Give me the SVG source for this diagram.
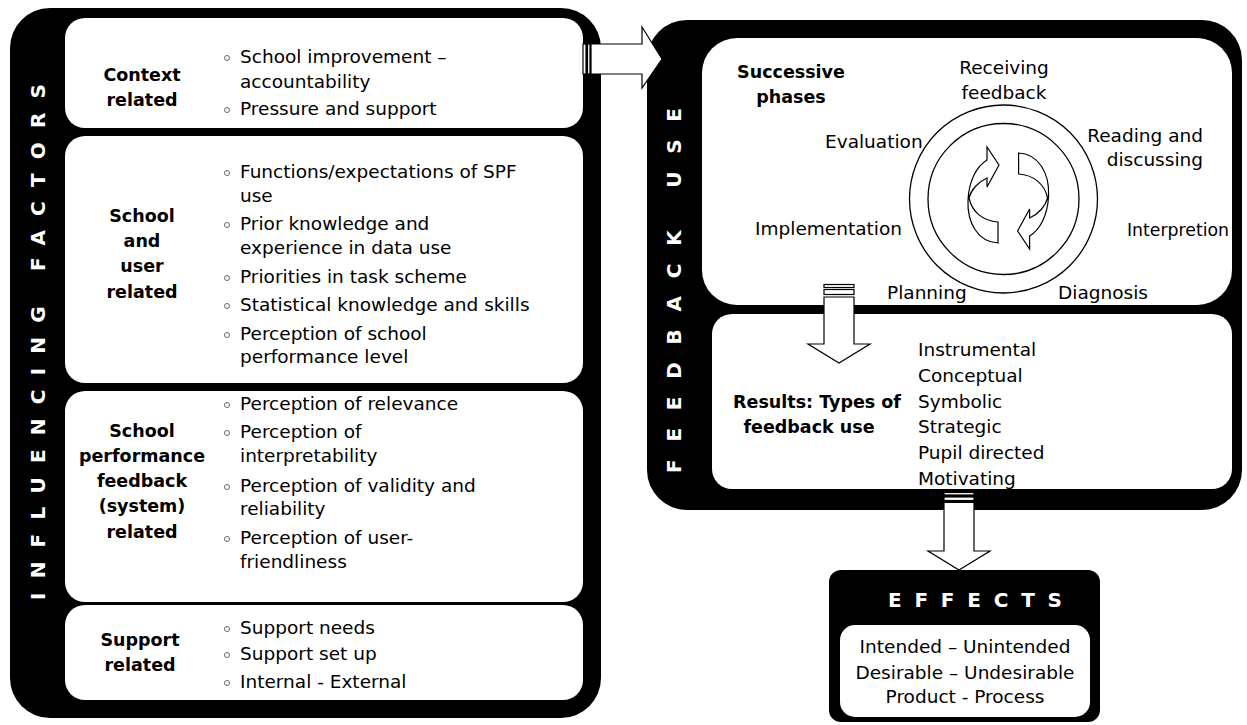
<svg xmlns="http://www.w3.org/2000/svg" width="1247" height="725" viewBox="0 0 1247 725">
<style>
.panel{fill:#000}
.box{fill:#fff}
.t{font-family:"DejaVu Sans",sans-serif;font-size:18.5px;fill:#000}
.b{font-family:"DejaVu Sans",sans-serif;font-size:17.5px;font-weight:bold;fill:#000;text-anchor:middle}
.v{font-family:"DejaVu Sans",sans-serif;font-size:20px;font-weight:bold;fill:#fff;text-anchor:middle}
.bul{fill:none;stroke:#666;stroke-width:1}
.arr{fill:#fff;stroke:#000;stroke-width:1.2}
.ring{fill:none;stroke:#000;stroke-width:1.3}
</style>
<defs>
<path id="cyc" d="M998,243 C978,242 967,223 968,200 C969,180 977,166 987,160 L987,147 L999,165 L987,187 L987,178 C978,182 971,190 969,198 C972,212 983,221 998,222 Z"/>
</defs>

<g id="influencing-factors">
<rect class="panel" x="10" y="8" width="591" height="710" rx="40"/>
<text class="v" transform="translate(44.5,342) rotate(-90)" textLength="516" lengthAdjust="spacing">INFLUENCING FACTORS</text>
</g>

<g id="context-related">
<rect class="box" x="65" y="18" width="518" height="110" rx="20"/>
<text class="b" x="142" y="81">Context</text>
<text class="b" x="142" y="106">related</text>
<circle class="bul" cx="227" cy="58" r="2.5"/>
<text class="t" x="240" y="63">School improvement –</text>
<text class="t" x="240" y="88">accountability</text>
<circle class="bul" cx="227" cy="110" r="2.5"/>
<text class="t" x="240" y="115">Pressure and support</text>
</g>

<g id="school-user-related">
<rect class="box" x="65" y="136" width="518" height="247" rx="20"/>
<text class="b" x="142" y="222">School</text>
<text class="b" x="142" y="247">and</text>
<text class="b" x="142" y="272">user</text>
<text class="b" x="142" y="298">related</text>
<circle class="bul" cx="227" cy="173" r="2.5"/>
<text class="t" x="240" y="178">Functions/expectations of SPF</text>
<text class="t" x="240" y="202">use</text>
<circle class="bul" cx="227" cy="225" r="2.5"/>
<text class="t" x="240" y="230">Prior knowledge and</text>
<text class="t" x="240" y="254">experience in data use</text>
<circle class="bul" cx="227" cy="278" r="2.5"/>
<text class="t" x="240" y="283">Priorities in task scheme</text>
<circle class="bul" cx="227" cy="306" r="2.5"/>
<text class="t" x="240" y="311">Statistical knowledge and skills</text>
<circle class="bul" cx="227" cy="335" r="2.5"/>
<text class="t" x="240" y="340">Perception of school</text>
<text class="t" x="240" y="363">performance level</text>
</g>

<g id="spf-related">
<rect class="box" x="65" y="391" width="518" height="211" rx="20"/>
<text class="b" x="142" y="437">School</text>
<text class="b" x="142" y="462">performance</text>
<text class="b" x="142" y="487">feedback</text>
<text class="b" x="142" y="512">(system)</text>
<text class="b" x="142" y="538">related</text>
<circle class="bul" cx="227" cy="405" r="2.5"/>
<text class="t" x="240" y="410">Perception of relevance</text>
<circle class="bul" cx="227" cy="433" r="2.5"/>
<text class="t" x="240" y="438">Perception of</text>
<text class="t" x="240" y="462">interpretability</text>
<circle class="bul" cx="227" cy="487" r="2.5"/>
<text class="t" x="240" y="492">Perception of validity and</text>
<text class="t" x="240" y="515">reliability</text>
<circle class="bul" cx="227" cy="539" r="2.5"/>
<text class="t" x="240" y="544">Perception of user-</text>
<text class="t" x="240" y="568">friendliness</text>
</g>

<g id="support-related">
<rect class="box" x="65" y="605" width="518" height="95" rx="20"/>
<text class="b" x="140" y="646">Support</text>
<text class="b" x="140" y="671">related</text>
<circle class="bul" cx="227" cy="629" r="2.5"/>
<text class="t" x="240" y="634">Support needs</text>
<circle class="bul" cx="227" cy="655" r="2.5"/>
<text class="t" x="240" y="660">Support set up</text>
<circle class="bul" cx="227" cy="683" r="2.5"/>
<text class="t" x="240" y="688">Internal - External</text>
</g>

<g id="feedback-use">
<rect class="panel" x="647" y="20" width="595" height="490" rx="40"/>
<text class="v" transform="translate(680.5,290.5) rotate(-90)" textLength="365" lengthAdjust="spacing">FEEDBACK USE</text>
</g>

<g id="successive-phases">
<rect class="box" x="702" y="38" width="530" height="267" rx="35"/>
<text class="b" x="791" y="78">Successive</text>
<text class="b" x="791" y="103">phases</text>
<circle class="ring" cx="1003.5" cy="199" r="94"/>
<circle class="ring" cx="1003.5" cy="199" r="75.5"/>
<use href="#cyc" class="arr"/>
<use href="#cyc" class="arr" transform="rotate(180 1008.3 198)"/>
<text class="t" x="1004" y="74" text-anchor="middle">Receiving</text>
<text class="t" x="1004" y="99" text-anchor="middle">feedback</text>
<text class="t" x="825" y="148">Evaluation</text>
<text class="t" x="1203" y="142" text-anchor="end">Reading and</text>
<text class="t" x="1203" y="166" text-anchor="end">discussing</text>
<text class="t" x="1127" y="236" textLength="102" lengthAdjust="spacingAndGlyphs">Interpretion</text>
<text class="t" x="902" y="235" text-anchor="end">Implementation</text>
<text class="t" x="887" y="299">Planning</text>
<text class="t" x="1058" y="299">Diagnosis</text>
</g>

<g id="results">
<rect class="box" x="712" y="314" width="520" height="175" rx="20"/>
<text class="b" x="817" y="408">Results: Types of</text>
<text class="b" x="809" y="433">feedback use</text>
<text class="t" x="918" y="356">Instrumental</text>
<text class="t" x="918" y="382">Conceptual</text>
<text class="t" x="918" y="408">Symbolic</text>
<text class="t" x="918" y="433">Strategic</text>
<text class="t" x="918" y="459">Pupil directed</text>
<text class="t" x="918" y="485">Motivating</text>
</g>

<g id="effects">
<rect class="panel" x="829" y="570" width="271" height="152" rx="12"/>
<text class="v" x="975" y="607" font-size="21" textLength="174" lengthAdjust="spacing">EFFECTS</text>
<rect class="box" x="840" y="625" width="250" height="92" rx="15"/>
<text class="t" x="965" y="653" text-anchor="middle">Intended – Unintended</text>
<text class="t" x="965" y="679" text-anchor="middle">Desirable – Undesirable</text>
<text class="t" x="965" y="703" text-anchor="middle">Product - Process</text>
</g>

<g id="connectors">
<rect class="arr" x="583" y="44" width="3" height="30"/>
<rect class="arr" x="587.5" y="44" width="2.5" height="30"/>
<path class="arr" d="M591,44 H642 V27 L662,59 L642,88 V74 H591 Z"/>
<rect class="arr" x="824" y="284.5" width="30" height="3"/>
<rect class="arr" x="824" y="289.5" width="30" height="5"/>
<path class="arr" d="M824,297 H854 V344 H870 L839,363 L808,344 H824 Z"/>
<rect class="arr" x="944" y="492.5" width="30" height="2.5"/>
<rect class="arr" x="944" y="497" width="30" height="3.5"/>
<path class="arr" d="M944,502.5 H974 V551 H990 L959,570 L928,551 H944 Z"/>
</g>
</svg>
